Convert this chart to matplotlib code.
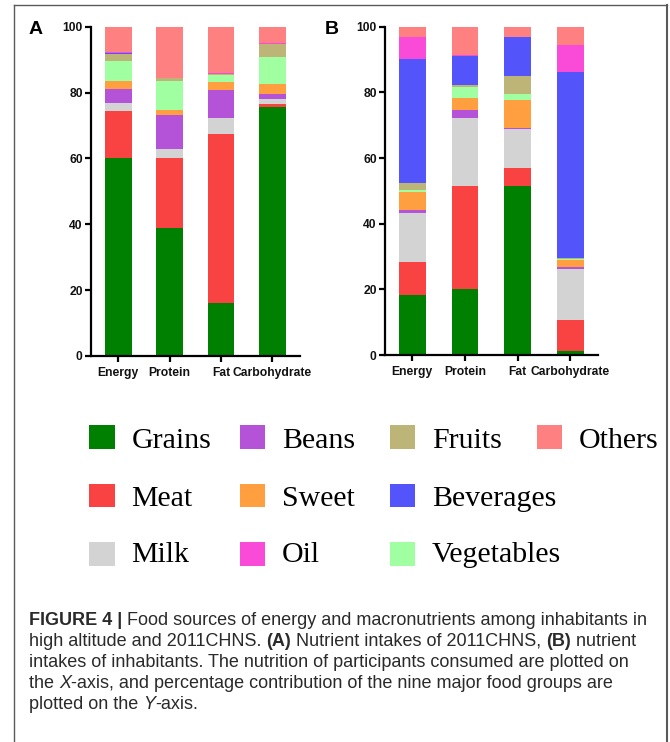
import matplotlib
matplotlib.use("Agg")
import matplotlib.pyplot as plt
from matplotlib.patches import Rectangle
from matplotlib.lines import Line2D
import numpy as np

W, H = 670, 742
DPI = 100

nutrients = ["Energy", "Protein", "Fat", "Carbohydrate"]
groups = ["Grains", "Meat", "Milk", "Beans", "Sweet", "Vegetables",
          "Fruits", "Beverages", "Oil", "Others"]
colors = {
    "Grains": "#008000", "Meat": "#F94343", "Milk": "#D3D3D3",
    "Beans": "#B452D8", "Sweet": "#FF9F40", "Vegetables": "#A0FFA0",
    "Fruits": "#BDB478", "Beverages": "#5355FA", "Oil": "#F94BD8",
    "Others": "#FF8080",
}

# (A) 2011CHNS, percentage contribution
grains_a = [60.0, 38.8, 16.2, 75.7]
meat_a = [14.5, 21.2, 51.1, 0.8]
milk_a = [2.4, 3.0, 5.0, 1.4]
beans_a = [4.1, 10.2, 8.5, 1.6]
sweet_a = [2.5, 1.5, 2.3, 3.1]
veg_a = [6.1, 8.9, 2.2, 8.2]
fruits_a = [2.2, 0.7, 0.2, 3.9]
bev_a = [0.2, 0.1, 0.1, 0.1]
oil_a = [0.3, 0.1, 0.2, 0.2]
others_a = [7.7, 15.5, 14.2, 5.0]

# (B) high-altitude inhabitants, percentage contribution
grains_b = [18.3, 20.0, 51.5, 1.2]
meat_b = [10.1, 31.6, 5.4, 9.5]
milk_b = [15.0, 20.6, 11.8, 15.6]
beans_b = [0.8, 2.4, 0.4, 0.6]
sweet_b = [5.5, 3.8, 8.6, 2.0]
veg_b = [0.6, 3.2, 1.9, 0.3]
fruits_b = [2.0, 0.7, 5.3, 0.2]
bev_b = [37.9, 8.9, 12.0, 56.7]
oil_b = [6.7, 0.1, 0.0, 8.4]
others_b = [3.1, 8.7, 3.1, 5.5]

panel_a = [grains_a, meat_a, milk_a, beans_a, sweet_a, veg_a,
           fruits_a, bev_a, oil_a, others_a]
panel_b = [grains_b, meat_b, milk_b, beans_b, sweet_b, veg_b,
           fruits_b, bev_b, oil_b, others_b]

yticks = [0, 20, 40, 60, 80, 100]

fig = plt.figure(figsize=(W / DPI, H / DPI), dpi=DPI)


def px_axes(left, top, right, bottom):
    return fig.add_axes([left / W, 1 - bottom / H, (right - left) / W,
                         (bottom - top) / H])


def stacked(ax, series, width, xlim):
    x = np.arange(len(nutrients))
    base = np.zeros(len(nutrients))
    for name, vals in zip(groups, series):
        vals = np.asarray(vals, dtype=float)
        ax.bar(x, vals, width, bottom=base, color=colors[name],
               edgecolor="none", linewidth=0)
        base += vals
    ax.set_xlim(*xlim)
    ax.set_ylim(0, 100)
    ax.set_xticks(x)
    ax.set_xticklabels(nutrients, fontsize=8.7, fontweight="bold",
                       family="Liberation Sans", color="#111111")
    ax.set_yticks(yticks)
    ax.set_yticklabels([str(v) for v in yticks], fontsize=8.7,
                       fontweight="bold", family="Liberation Sans",
                       color="#111111")
    for s in ("top", "right"):
        ax.spines[s].set_visible(False)
    for s in ("left", "bottom"):
        ax.spines[s].set_linewidth(1.6)
    ax.tick_params(axis="both", length=4, width=1.6, pad=2)
    ax.tick_params(axis="x", pad=4)


ax_a = px_axes(91, 26.7, 300, 356)
stacked(ax_a, panel_a, 0.52, (-0.53, 3.54))
ax_b = px_axes(385, 26.7, 598, 355)
stacked(ax_b, panel_b, 0.51, (-0.52, 3.53))

fig.text(35.5 / W, 1 - 29.5 / H, "A", fontsize=14, fontweight="bold",
         family="Liberation Sans", ha="center", va="center")
fig.text(332 / W, 1 - 30 / H, "B", fontsize=14, fontweight="bold",
         family="Liberation Sans", ha="center", va="center")

# legend grid
legend_layout = [
    ["Grains", "Beans", "Fruits", "Others"],
    ["Meat", "Sweet", "Beverages"],
    ["Milk", "Oil", "Vegetables"],
]
col_x = [89, 239.5, 389.5, 536.5]
row_cy = [437, 495.5, 554]
row_base = [447.5, 506, 562.5]
sw_w, sw_h = 25.5, 23.5
for r, row in enumerate(legend_layout):
    for c, name in enumerate(row):
        x0 = col_x[c]
        fig.add_artist(Rectangle((x0 / W, 1 - (row_cy[r] + sw_h / 2) / H),
                                 sw_w / W, sw_h / H,
                                 transform=fig.transFigure,
                                 facecolor=colors[name], edgecolor="none"))
        fig.text((x0 + 42.5) / W, 1 - row_base[r] / H, name, fontsize=21.5,
                 family="Liberation Serif", ha="left", va="baseline")

# frame around the figure
frame_kw = dict(color="#5a5a5a", linewidth=1.0, transform=fig.transFigure)
fig.add_artist(Line2D([14 / W, 667 / W], [1 - 5 / H, 1 - 5 / H], **frame_kw))
fig.add_artist(Line2D([14 / W, 14 / W], [1 - 5 / H, 0], **frame_kw))
fig.add_artist(Line2D([667 / W, 667 / W], [1 - 5 / H, 0],
                      color="#5a5a5a", linewidth=1.5,
                      transform=fig.transFigure))

# caption with mixed bold / italic runs
cap_font = "Liberation Sans"
renderer = fig.canvas.get_renderer()


def run_width(s, weight, style, size):
    def w(txt):
        t = fig.text(0, 0, txt, fontsize=size, fontweight=weight,
                     style=style, family=cap_font)
        e = t.get_window_extent(renderer).width
        t.remove()
        return e
    return w("I" + s + "I") - w("II")


caption = [
    [("FIGURE 4 | ", "bold", "normal"),
     ("Food sources of energy and macronutrients among inhabitants in",
      "normal", "normal")],
    [("high altitude and 2011CHNS. ", "normal", "normal"),
     ("(A)", "bold", "normal"),
     (" Nutrient intakes of 2011CHNS, ", "normal", "normal"),
     ("(B)", "bold", "normal"),
     (" nutrient", "normal", "normal")],
    [("intakes of inhabitants. The nutrition of participants consumed are "
      "plotted on", "normal", "normal")],
    [("the ", "normal", "normal"), ("X", "normal", "italic"),
     ("-axis, and percentage contribution of the nine major food groups are",
      "normal", "normal")],
    [("plotted on the ", "normal", "normal"), ("Y", "normal", "italic"),
     ("-axis.", "normal", "normal")],
]

# size the caption so the first line spans the text block width
cap_left, cap_right = 29.0, 649.0
probe = 12.0
first_w = sum(run_width(s, wt, st, probe) for s, wt, st in caption[0])
cap_size = probe * (cap_right - cap_left) / first_w

baselines = [625, 646, 667, 688, 709]
for line, yb in zip(caption, baselines):
    x = cap_left
    for s, weight, style in line:
        fig.text(x / W, 1 - yb / H, s, fontsize=cap_size, fontweight=weight,
                 style=style, family=cap_font, color="#2a2a2a",
                 ha="left", va="baseline")
        x += run_width(s, weight, style, cap_size)

fig.savefig("out.png", dpi=DPI)
